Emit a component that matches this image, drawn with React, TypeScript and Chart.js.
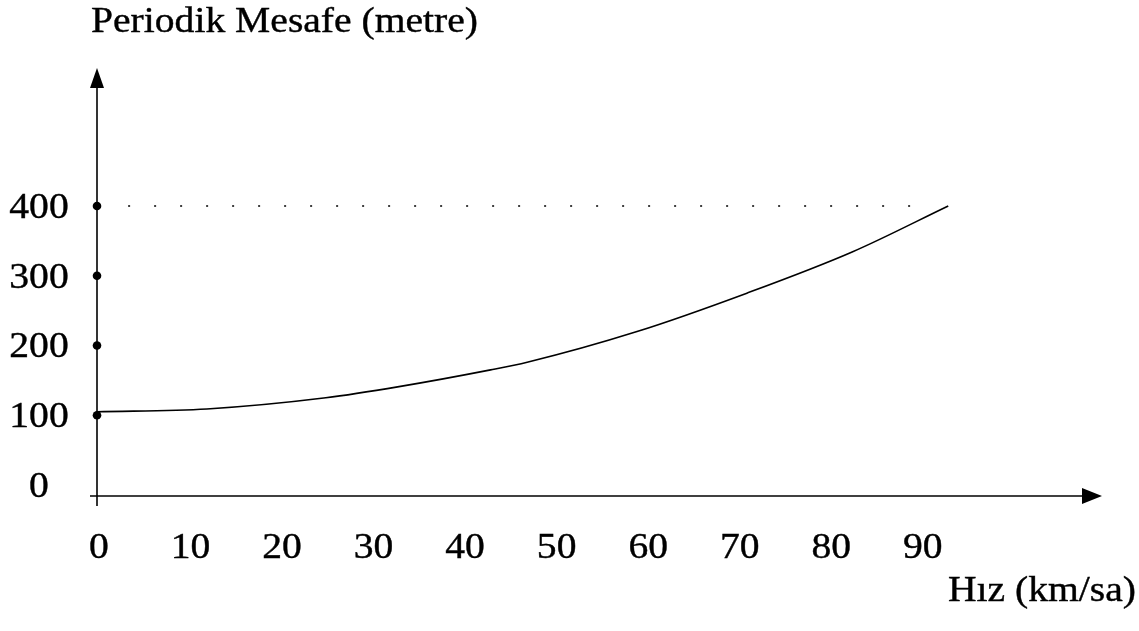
import React, { useEffect, useRef } from "react";
import { Chart, registerables } from "chart.js";

Chart.register(...registerables);

// Curve: speed (km/sa) vs periodic distance (metre)
const speeds = [0, 12, 25, 33, 43, 47, 59, 71, 82.5, 93];
const distances = [105, 109, 125, 141, 165, 176, 220, 275, 334, 400];

// Marked points on the vertical axis
const yMarks = [100, 200, 300, 400];
// Dotted reference line at 400
const refLineX = [3.4, 90.2];
const refLineY = 400;

const xTickLabels = ["0", "10", "20", "30", "40", "50", "60", "70", "80", "90"];
const xTickValues = [0, 10, 20, 30, 40, 50, 60, 70, 80, 90];
const yTickLabels = ["0", "100", "200", "300", "400"];
const yTickValues = [0, 100, 200, 300, 400];

const yTitle = "Periodik Mesafe (metre)";
const xTitle = "Hız (km/sa)";

const FONT = "36px 'Liberation Serif', 'Times New Roman', serif";
const STRETCH = 1.1;

function drawText(
  ctx: CanvasRenderingContext2D,
  text: string,
  x: number,
  y: number,
  align: CanvasTextAlign
) {
  ctx.save();
  ctx.font = FONT;
  ctx.fillStyle = "#000";
  ctx.strokeStyle = "#000";
  ctx.lineWidth = 0.4;
  ctx.textBaseline = "alphabetic";
  ctx.textAlign = align;
  ctx.translate(x, y);
  ctx.scale(STRETCH, 1);
  ctx.fillText(text, 0, 0);
  ctx.strokeText(text, 0, 0);
  ctx.restore();
}

const axesPlugin = {
  id: "arrowAxes",
  beforeDatasetsDraw(chart: any) {
    const { ctx, chartArea, scales } = chart;
    const xs = scales.x;
    const ys = scales.y;
    const x0 = xs.getPixelForValue(0);
    const yAxisBase = chartArea.bottom;
    ctx.save();
    ctx.strokeStyle = "#000";
    ctx.fillStyle = "#000";
    ctx.lineWidth = 1.6;
    // vertical axis
    ctx.beginPath();
    ctx.moveTo(x0, yAxisBase + 10);
    ctx.lineTo(x0, chartArea.top + 19);
    ctx.stroke();
    ctx.beginPath();
    ctx.moveTo(x0, chartArea.top);
    ctx.lineTo(x0 - 7, chartArea.top + 20);
    ctx.lineTo(x0 + 7, chartArea.top + 20);
    ctx.closePath();
    ctx.fill();
    // horizontal axis
    ctx.beginPath();
    ctx.moveTo(x0 - 7, yAxisBase);
    ctx.lineTo(chartArea.right - 19, yAxisBase);
    ctx.stroke();
    ctx.beginPath();
    ctx.moveTo(chartArea.right, yAxisBase);
    ctx.lineTo(chartArea.right - 20, yAxisBase - 8);
    ctx.lineTo(chartArea.right - 20, yAxisBase + 8);
    ctx.closePath();
    ctx.fill();
    ctx.restore();

    // tick labels
    xTickValues.forEach((v, i) => {
      drawText(ctx, xTickLabels[i], xs.getPixelForValue(v) + 2, 558, "center");
    });
    yTickValues.forEach((v, i) => {
      drawText(ctx, yTickLabels[i], 39, ys.getPixelForValue(v) + 12, "center");
    });
    // titles
    drawText(ctx, yTitle, 91, 32, "left");
    drawText(ctx, xTitle, 948, 601, "left");
  },
};

export default function App() {
  const canvasRef = useRef<HTMLCanvasElement | null>(null);

  useEffect(() => {
    if (!canvasRef.current) return;
    const chart = new Chart(canvasRef.current, {
      type: "scatter",
      data: {
        datasets: [
          {
            label: "curve",
            data: speeds.map((s, i) => ({ x: s, y: distances[i] })),
            showLine: true,
            borderColor: "#000",
            borderWidth: 1.6,
            pointRadius: 0,
            cubicInterpolationMode: "monotone",
            clip: false as any,
          },
          {
            label: "ref",
            data: refLineX.map((x) => ({ x, y: refLineY })),
            showLine: true,
            borderColor: "#000",
            borderWidth: 1.5,
            borderDash: [2, 24],
            pointRadius: 0,
            clip: false as any,
          },
          {
            label: "marks",
            data: yMarks.map((y) => ({ x: 0, y })),
            showLine: false,
            pointRadius: 4.3,
            pointBackgroundColor: "#000",
            pointBorderColor: "#000",
            pointBorderWidth: 0,
            clip: false as any,
          },
        ],
      },
      options: {
        responsive: false,
        animation: false,
        layout: { padding: { left: 97, top: 68, right: 37, bottom: 135 } },
        plugins: {
          legend: { display: false },
          tooltip: { enabled: false },
        },
        scales: {
          x: { type: "linear", min: 0, max: 109.8, display: false },
          y: { type: "linear", min: -15.8, max: 597.8, display: false },
        },
      },
      plugins: [axesPlugin],
    });
    return () => chart.destroy();
  }, []);

  return (
    <div
      style={{
        position: "fixed",
        left: 0,
        top: 0,
        width: 1139,
        height: 631,
        background: "#fff",
      }}
    >
      <canvas ref={canvasRef} width={1139} height={631} />
    </div>
  );
}
